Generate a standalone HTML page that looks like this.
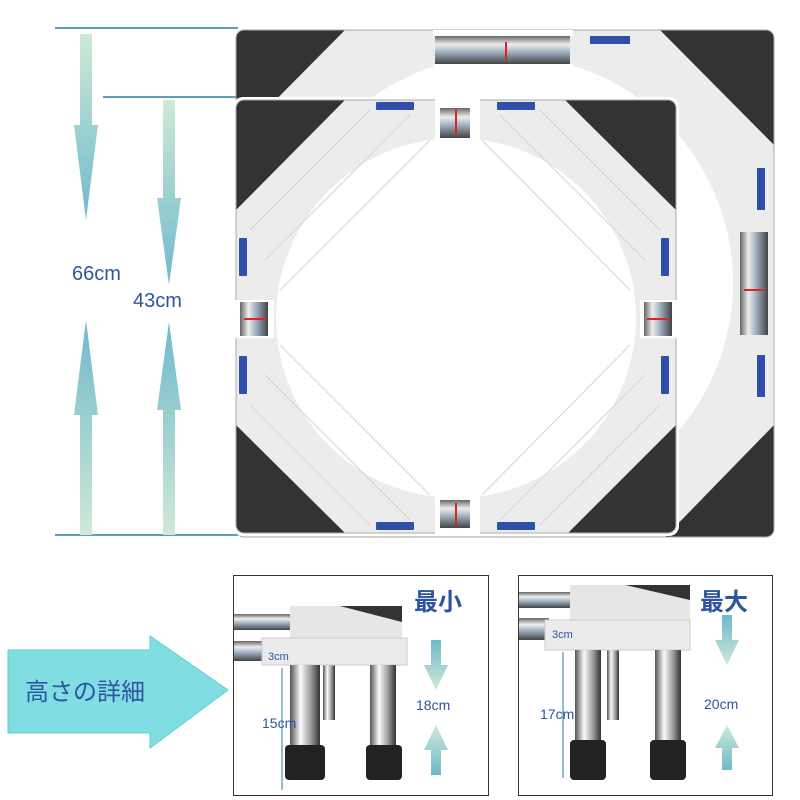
<!DOCTYPE html>
<html><head><meta charset="utf-8"><style>
body{margin:0;background:#fff;}
svg{display:block;}
text{font-family:"Liberation Sans","Noto Sans CJK JP",sans-serif;}
</style></head><body>
<svg width="800" height="800" viewBox="0 0 800 800" xmlns="http://www.w3.org/2000/svg">
<defs>
<linearGradient id="gd" x1="0" y1="0" x2="0" y2="1"><stop offset="0" stop-color="#cfe9d6"/><stop offset="1" stop-color="#6fb9cc"/></linearGradient>
<linearGradient id="gu" x1="0" y1="1" x2="0" y2="0"><stop offset="0" stop-color="#cfe9d6"/><stop offset="1" stop-color="#6fb9cc"/></linearGradient>
<linearGradient id="rodh" x1="0" y1="0" x2="0" y2="1"><stop offset="0" stop-color="#666"/><stop offset=".3" stop-color="#eee"/><stop offset=".6" stop-color="#9ab"/><stop offset="1" stop-color="#444"/></linearGradient>
<linearGradient id="rodv" x1="0" y1="0" x2="1" y2="0"><stop offset="0" stop-color="#666"/><stop offset=".3" stop-color="#eee"/><stop offset=".6" stop-color="#9ab"/><stop offset="1" stop-color="#444"/></linearGradient>
<linearGradient id="leg" x1="0" y1="0" x2="1" y2="0"><stop offset="0" stop-color="#555"/><stop offset=".35" stop-color="#fafafa"/><stop offset=".7" stop-color="#999"/><stop offset="1" stop-color="#333"/></linearGradient>
<clipPath id="cb"><rect x="236" y="30" width="538" height="507" rx="8"/></clipPath>
<clipPath id="cf"><rect x="236" y="100" width="440" height="433" rx="8"/></clipPath>
</defs>

<!-- dimension lines -->
<g stroke="#2a7fa0" stroke-width="1.5">
<line x1="55" y1="28" x2="238" y2="28"/>
<line x1="103" y1="97" x2="236" y2="97"/>
<line x1="55" y1="535" x2="238" y2="535"/>
</g>
<polygon points="80,34 92,34 92,125 98,125 86,220 74,125 80,125" fill="url(#gd)"/>
<polygon points="80,535 92,535 92,415 98,415 86,320 74,415 80,415" fill="url(#gu)"/>
<polygon points="163,100 175,100 175,198 181,198 169,285 157,198 163,198" fill="url(#gd)"/>
<polygon points="163,535 175,535 175,410 181,410 169,322 157,410 163,410" fill="url(#gu)"/>
<text x="72" y="280" font-size="20" fill="#2d55a0">66cm</text>
<text x="133" y="307" font-size="20" fill="#2d55a0">43cm</text>

<!-- back frame -->
<g clip-path="url(#cb)">
<rect x="236" y="30" width="538" height="507" fill="#ececec" stroke="#bbb"/>
<polygon points="236,30 345,30 236,140" fill="#333"/>
<polygon points="660,30 774,30 774,145" fill="#333"/>
<polygon points="774,425 774,537 665,537" fill="#333"/>
<circle cx="505" cy="283" r="228" fill="#fff"/>
</g>
<rect x="236" y="30" width="538" height="507" rx="8" fill="none" stroke="#aaa"/>
<rect x="435" y="36" width="135" height="28" fill="url(#rodh)"/>
<rect x="433" y="30" width="140" height="6" fill="#fff"/>
<rect x="433" y="64" width="140" height="40" fill="#fff"/>
<line x1="506" y1="42" x2="506" y2="60" stroke="#d22" stroke-width="2"/>
<rect x="740" y="232" width="28" height="103" fill="url(#rodv)"/>
<line x1="744" y1="290" x2="764" y2="290" stroke="#d22" stroke-width="2"/>
<rect x="590" y="36" width="40" height="8" fill="#2f4fa8"/>
<rect x="757" y="168" width="8" height="42" fill="#2f4fa8"/>
<rect x="757" y="355" width="8" height="42" fill="#2f4fa8"/>

<!-- front frame -->
<rect x="233" y="97" width="446" height="439" rx="10" fill="#fff"/>
<g clip-path="url(#cf)">
<rect x="236" y="100" width="440" height="433" fill="#ececec"/>
<polygon points="236,100 345,100 236,210" fill="#333"/>
<polygon points="565,100 676,100 676,210" fill="#333"/>
<polygon points="236,425 236,533 345,533" fill="#333"/>
<polygon points="676,425 676,533 568,533" fill="#333"/>
<circle cx="456" cy="318" r="180" fill="#fff"/>
<g stroke="#d4d4d4" stroke-width="1" fill="none">
<path d="M250,230 L370,110 M265,260 L410,115 M280,290 L430,140"/>
<path d="M660,230 L540,110 M645,260 L500,115 M630,290 L482,140"/>
<path d="M250,405 L370,525 M265,375 L410,520 M280,345 L430,495"/>
<path d="M660,405 L540,525 M645,375 L500,520 M630,345 L482,495"/>
</g>
</g>
<rect x="236" y="100" width="440" height="433" rx="8" fill="none" stroke="#aaa"/>
<!-- gaps with rods -->
<rect x="435" y="98" width="45" height="45" fill="#fff"/>
<rect x="440" y="108" width="30" height="30" fill="url(#rodh)"/>
<line x1="456" y1="110" x2="456" y2="135" stroke="#d22" stroke-width="2"/>
<rect x="435" y="495" width="45" height="40" fill="#fff"/>
<rect x="440" y="500" width="30" height="28" fill="url(#rodh)"/>
<line x1="456" y1="503" x2="456" y2="525" stroke="#d22" stroke-width="2"/>
<rect x="234" y="300" width="40" height="38" fill="#fff"/>
<rect x="240" y="302" width="28" height="34" fill="url(#rodv)"/>
<line x1="244" y1="319" x2="266" y2="319" stroke="#d22" stroke-width="2"/>
<rect x="640" y="300" width="38" height="38" fill="#fff"/>
<rect x="644" y="302" width="28" height="34" fill="url(#rodv)"/>
<line x1="647" y1="319" x2="669" y2="319" stroke="#d22" stroke-width="2"/>
<g fill="#2f4fa8">
<rect x="376" y="102" width="38" height="8" rx="1"/><rect x="497" y="102" width="38" height="8" rx="1"/>
<rect x="376" y="522" width="38" height="8" rx="1"/><rect x="497" y="522" width="38" height="8" rx="1"/>
<rect x="239" y="238" width="8" height="38" rx="1"/><rect x="661" y="238" width="8" height="38" rx="1"/>
<rect x="239" y="356" width="8" height="38" rx="1"/><rect x="661" y="356" width="8" height="38" rx="1"/>
</g>

<!-- big arrow -->
<polygon points="8,650 150,650 150,636 228,690 150,748 150,733 8,733" fill="#80dde2" stroke="#6cc" stroke-width="1"/>
<text x="25" y="700" font-size="24" fill="#2d55a0">高さの詳細</text>

<!-- panel 1 -->
<rect x="233.5" y="575.5" width="255" height="220" fill="#fff" stroke="#333"/>
<rect x="234" y="614" width="60" height="16" fill="url(#rodh)"/>
<rect x="234" y="641" width="35" height="20" fill="url(#rodh)"/>
<rect x="290" y="606" width="112" height="32" fill="#e6e6e6"/>
<polygon points="340,606 402,606 402,622" fill="#333"/>
<rect x="323" y="640" width="12" height="80" fill="url(#leg)"/>
<rect x="262" y="638" width="145" height="27" fill="#ebebeb" stroke="#ccc"/>
<rect x="290" y="665" width="30" height="82" fill="url(#leg)"/>
<rect x="285" y="745" width="40" height="35" rx="4" fill="#222"/>
<rect x="370" y="665" width="26" height="82" fill="url(#leg)"/>
<rect x="366" y="745" width="36" height="35" rx="4" fill="#222"/>
<line x1="282" y1="668" x2="282" y2="790" stroke="#2a7fa0" stroke-width="1"/>
<text x="268" y="660" font-size="11" fill="#2d55a0">3cm</text>
<text x="262" y="728" font-size="14" fill="#2d55a0">15cm</text>
<text x="414" y="610" font-size="24" font-weight="bold" fill="#2d55a0">最小</text>
<polygon points="431,640 441,640 441,665 448,665 436,690 424,665 431,665" fill="url(#gu)"/>
<text x="416" y="710" font-size="14" fill="#2d55a0">18cm</text>
<polygon points="431,775 441,775 441,750 448,750 436,725 424,750 431,750" fill="url(#gd)"/>

<!-- panel 2 -->
<rect x="518.5" y="575.5" width="254" height="220" fill="#fff" stroke="#333"/>
<rect x="519" y="592" width="55" height="16" fill="url(#rodh)"/>
<rect x="519" y="618" width="30" height="22" fill="url(#rodh)"/>
<rect x="570" y="585" width="120" height="35" fill="#e6e6e6"/>
<polygon points="625,585 690,585 690,600" fill="#333"/>
<rect x="607" y="640" width="12" height="80" fill="url(#leg)"/>
<rect x="545" y="620" width="145" height="30" fill="#ebebeb" stroke="#ccc"/>
<rect x="575" y="650" width="26" height="95" fill="url(#leg)"/>
<rect x="570" y="740" width="36" height="40" rx="4" fill="#222"/>
<rect x="655" y="650" width="26" height="95" fill="url(#leg)"/>
<rect x="650" y="740" width="36" height="40" rx="4" fill="#222"/>
<line x1="563" y1="652" x2="563" y2="778" stroke="#2a7fa0" stroke-width="1"/>
<text x="552" y="638" font-size="11" fill="#2d55a0">3cm</text>
<text x="540" y="719" font-size="14" fill="#2d55a0">17cm</text>
<text x="700" y="610" font-size="24" font-weight="bold" fill="#2d55a0">最大</text>
<polygon points="722,615 732,615 732,640 739,640 727,665 715,640 722,640" fill="url(#gu)"/>
<text x="704" y="709" font-size="14" fill="#2d55a0">20cm</text>
<polygon points="722,770 732,770 732,748 739,748 727,725 715,748 722,748" fill="url(#gd)"/>
</svg>
</body></html>
